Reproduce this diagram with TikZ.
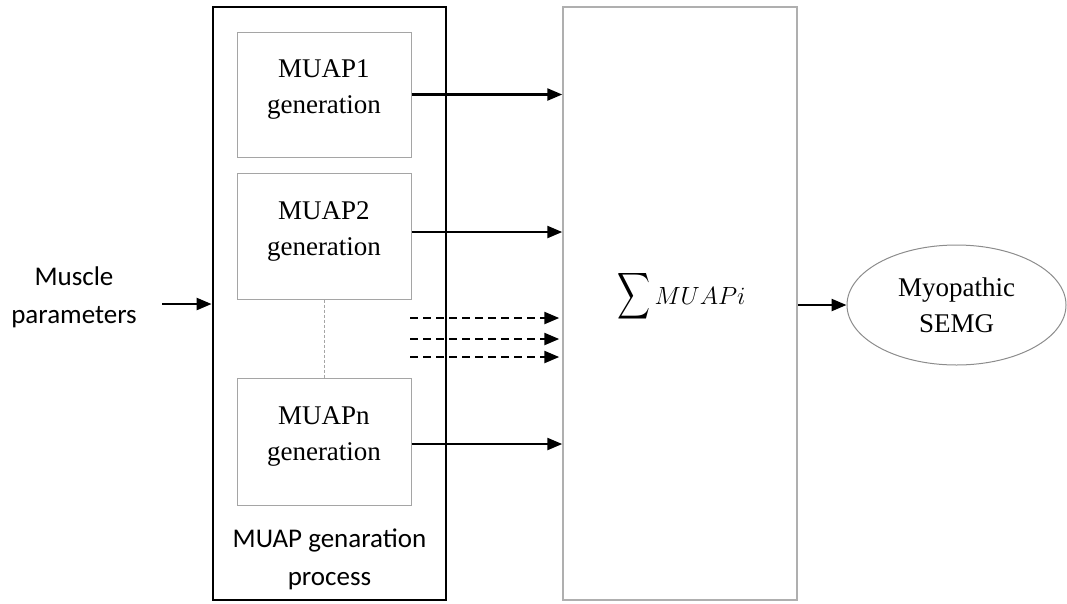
\documentclass[tikz,border=0pt]{standalone}
\usepackage{fontspec}
\setmainfont{Liberation Serif}
\newfontfamily\calibri{Carlito}
\usepackage{graphicx}
\usetikzlibrary{arrows.meta,shapes.geometric}
\definecolor{boxgray}{RGB}{165,165,165}
\definecolor{sumgray}{RGB}{175,175,175}
\definecolor{ellgray}{RGB}{140,140,140}
\begin{document}
\begin{tikzpicture}[x=1pt,y=-1pt,
  serif/.style={font=\fontsize{27}{36}\selectfont, align=center, inner sep=0},
  cal/.style={font=\calibri\fontsize{27}{38}\selectfont, align=center, inner sep=0},
  genbox/.style={draw=boxgray, line width=1pt, minimum width=174pt, inner sep=0},
  outerbox/.style={draw=black, line width=2.8pt, minimum width=233pt, minimum height=593pt, inner sep=0},
  sumbox/.style={draw=sumgray, line width=1.5pt, minimum width=234pt, minimum height=593pt, inner sep=0},
  outell/.style={ellipse, draw=ellgray, line width=1pt, minimum width=219pt, minimum height=120pt, inner sep=0, align=center, font=\fontsize{27}{36}\selectfont},
  arr/.style={line width=2.4pt, -{Triangle[length=15pt,width=12pt]}},
  dasharr/.style={arr, dash pattern=on 8pt off 5pt, shorten >=3pt},
  dotline/.style={draw=boxgray, line width=0.8pt, dash pattern=on 3pt off 2pt}
]
\useasboundingbox (0,0) rectangle (1067,603);

% outer process box
\node[outerbox] (outer) at (329.5,303.5) {};
% generation boxes
\node[genbox, minimum height=125pt] (b1) at (324,94.5) {};
\node[genbox, minimum height=126pt] (b2) at (324,236) {};
\node[genbox, minimum height=127pt] (bn) at (324,441.5) {};
\node[serif] (t1) at (324,89) {MUAP1\\generation};
\node[serif] (t2) at (324,231) {MUAP2\\generation};
\node[serif] (tn) at (324,436.5) {MUAPn\\generation};
\draw[dotline] (b2.south) -- (bn.north);
\node[cal] (proc) at (329.5,559) {MUAP genaration\\process};

% input
\node[cal] (musc) at (74,297) {Muscle\\parameters};
\coordinate (inS) at (162,304);
\draw[arr] (inS) -- (inS -| outer.west);

% sum box
\node[sumbox] (sum) at (680,303.5) {};
\node[inner sep=0] (sig) at (633.5,296) {\resizebox*{33pt}{52pt}{$\displaystyle\sum$}};
\node[inner sep=0, font=\fontsize{27}{32}\selectfont] (mu) at (700,296) {$MUAPi$};

% output ellipse
\node[outell] (ell) at (956.5,305) {Myopathic\\SEMG};

% arrows to sum
\draw[arr] (b1.east) -- (b1.east -| sum.west);
\draw[arr] ([yshift=4pt]b2.east) -- ([yshift=4pt]b2.east -| sum.west);
\draw[arr] ([yshift=-2.5pt]bn.east) -- ([yshift=-2.5pt]bn.east -| sum.west);
\coordinate (d1) at (410,318);
\coordinate (d2) at (410,339);
\coordinate (d3) at (410,357);
\draw[dasharr] (d1) -- (d1 -| sum.west);
\draw[dasharr] (d2) -- (d2 -| sum.west);
\draw[dasharr] (d3) -- (d3 -| sum.west);

% output arrow
\draw[arr] (ell.west -| sum.east) -- (ell.west);
\end{tikzpicture}
\end{document}
